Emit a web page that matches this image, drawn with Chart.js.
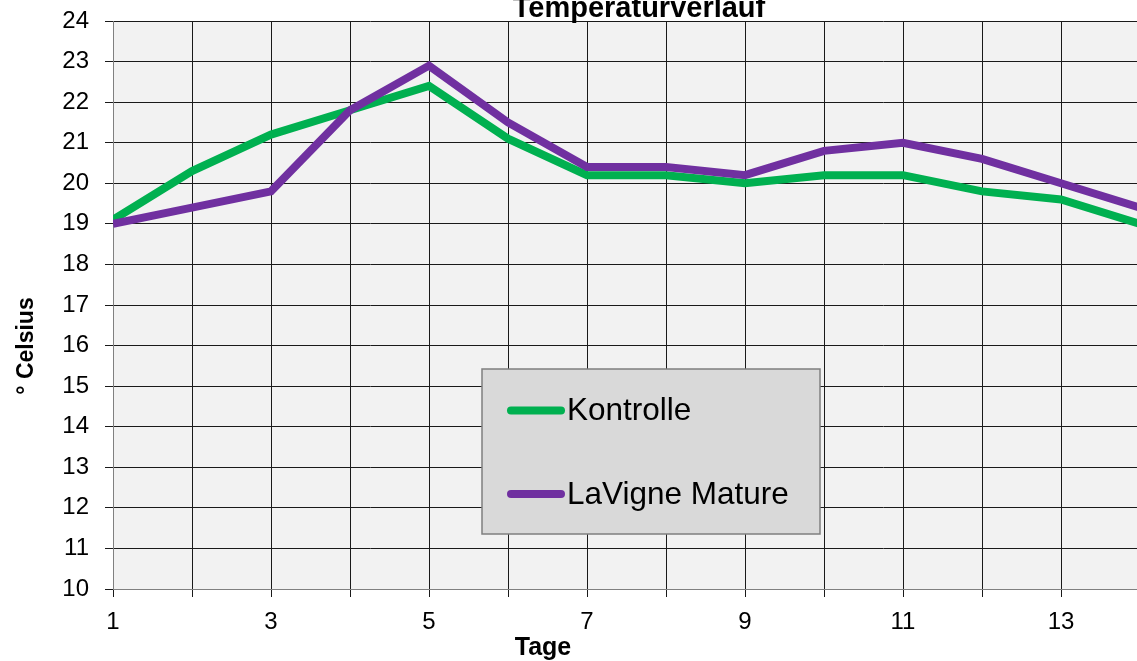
<!DOCTYPE html>
<html>
<head>
<meta charset="utf-8">
<script src="https://cdn.jsdelivr.net/npm/chart.js@4"></script>
<style>
  html, body { margin: 0; padding: 0; background: #ffffff; overflow: hidden; }
  #wrap { width: 1141px; height: 661px; }
</style>
</head>
<body>
<div id="wrap"><canvas id="chart" width="1141" height="661"></canvas></div>
<script>
// Temperature curve, Kontrolle vs. LaVigne Mature.
const days = [1, 2, 3, 4, 5, 6, 7, 8, 9, 10, 11, 12, 13, 14];
const kontrolle = [19.1, 20.3, 21.2, 21.8, 22.4, 21.1, 20.2, 20.2, 20.0, 20.2, 20.2, 19.8, 19.6, 19.0];
const laVigne = [19.0, 19.4, 19.8, 21.8, 22.9, 21.5, 20.4, 20.4, 20.2, 20.8, 21.0, 20.6, 20.0, 19.4];
const yMin = 10;
const yMax = 24;
const yStep = 1;

const titleText = 'Temperaturverlauf';
const xTitle = 'Tage';
const yTitle = '° Celsius';

const FONT = "'Liberation Sans', Arial, sans-serif";

// Grey plot background.
const plotBg = {
    id: 'plotBg',
    beforeDraw(chart) {
        const a = chart.chartArea;
        const ctx = chart.ctx;
        ctx.save();
        ctx.fillStyle = '#f2f2f2';
        ctx.fillRect(a.left, a.top, a.right - a.left, a.bottom - a.top);
        ctx.restore();
    }
};

// Title, axis titles and the boxed legend inside the plot.
const decorations = {
    id: 'decorations',
    afterDraw(chart) {
        const ctx = chart.ctx;
        ctx.save();
        ctx.fillStyle = '#000000';
        ctx.textAlign = 'center';
        ctx.textBaseline = 'alphabetic';
        ctx.font = 'bold 29px ' + FONT;
        ctx.fillText(titleText, 639, 17);

        ctx.font = 'bold 25px ' + FONT;
        ctx.fillText(xTitle, 543, 655);

        ctx.save();
        ctx.translate(33, 346);
        ctx.rotate(-Math.PI / 2);
        ctx.font = 'bold 23px ' + FONT;
        ctx.fillText(yTitle, 0, 0);
        ctx.restore();

        // legend box
        ctx.fillStyle = '#d9d9d9';
        ctx.fillRect(482, 369, 338, 165);
        ctx.strokeStyle = '#7f7f7f';
        ctx.lineWidth = 1.5;
        ctx.strokeRect(482, 369, 338, 165);

        const rows = [410.5, 494];
        chart.data.datasets.forEach(function (ds, i) {
            const y = rows[i];
            ctx.strokeStyle = ds.borderColor;
            ctx.lineWidth = 8;
            ctx.lineCap = 'round';
            ctx.beginPath();
            ctx.moveTo(511, y);
            ctx.lineTo(561, y);
            ctx.stroke();
            ctx.fillStyle = '#000000';
            ctx.textAlign = 'left';
            ctx.textBaseline = 'middle';
            ctx.font = '31.5px ' + FONT;
            ctx.fillText(ds.label, 567, y + 1);
        });
        ctx.restore();
    }
};

new Chart(document.getElementById('chart').getContext('2d'), {
    type: 'line',
    data: {
        labels: days,
        datasets: [
            { label: 'Kontrolle', data: kontrolle, borderColor: '#00b050', backgroundColor: '#00b050', order: 2 },
            { label: 'LaVigne Mature', data: laVigne, borderColor: '#7030a0', backgroundColor: '#7030a0', order: 1 }
        ]
    },
    options: {
        responsive: false,
        animation: false,
        devicePixelRatio: 1,
        layout: { padding: { top: 21, right: 1, bottom: 0, left: 0 } },
        elements: {
            line: { borderWidth: 8, tension: 0, borderJoinStyle: 'miter', borderCapStyle: 'butt', fill: false },
            point: { radius: 0, hoverRadius: 0 }
        },
        datasets: { line: { clip: 0 } },
        plugins: {
            legend: { display: false },
            title: { display: false },
            tooltip: { enabled: false }
        },
        scales: {
            x: {
                type: 'category',
                offset: false,
                grid: { color: '#1a1a1a', lineWidth: 1, tickLength: 8, drawTicks: true },
                border: { color: '#808080', width: 1 },
                ticks: {
                    color: '#000000',
                    font: { family: FONT, size: 24 },
                    padding: 11,
                    maxRotation: 0,
                    autoSkip: false,
                    callback: function (value, index) {
                        const d = days[index];
                        return d % 2 === 1 ? String(d) : '';
                    }
                },
                afterFit: function (scale) {
                    scale.height = 72;
                    scale.paddingLeft = 0;
                    scale.paddingRight = 0;
                }
            },
            y: {
                min: yMin,
                max: yMax,
                grid: { color: '#1a1a1a', lineWidth: 1, tickLength: 8, drawTicks: true },
                border: { color: '#808080', width: 1 },
                ticks: {
                    stepSize: yStep,
                    color: '#000000',
                    font: { family: FONT, size: 24 },
                    padding: 16
                },
                afterFit: function (scale) {
                    scale.width = 113;
                    scale.paddingTop = 0;
                    scale.paddingBottom = 0;
                }
            }
        }
    },
    plugins: [plotBg, decorations]
});
</script>
</body>
</html>
